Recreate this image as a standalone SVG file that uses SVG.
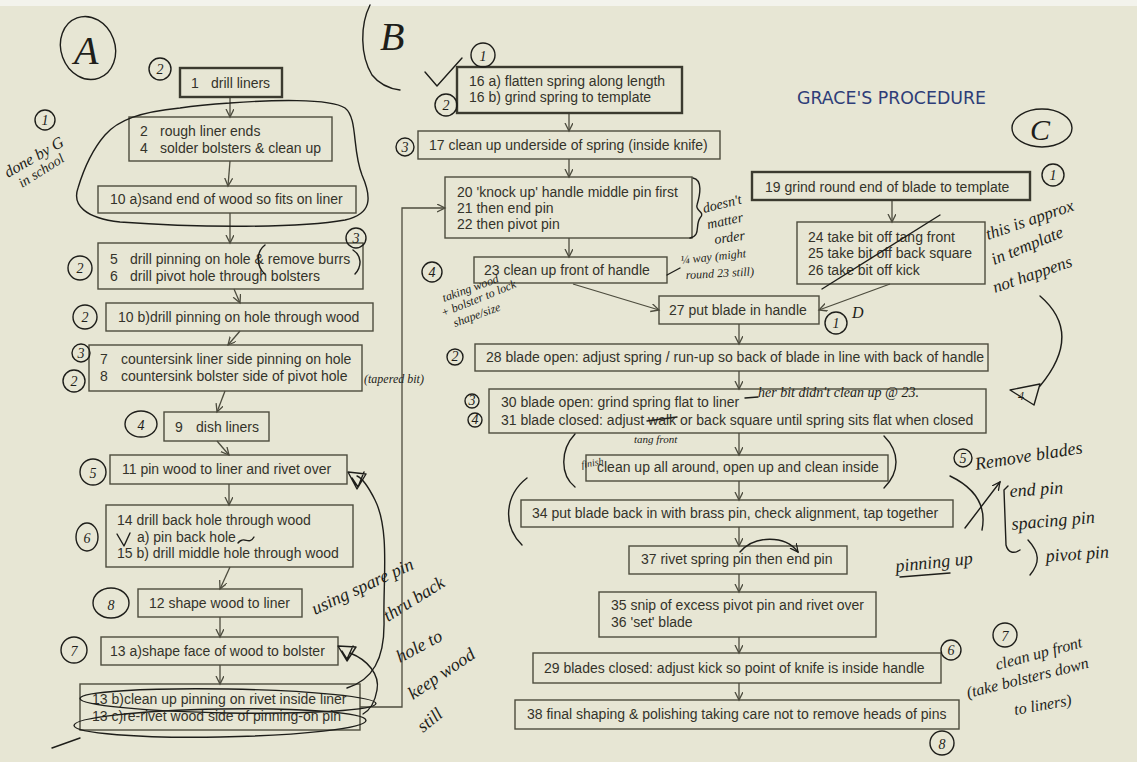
<svg xmlns="http://www.w3.org/2000/svg" width="1137" height="762" viewBox="0 0 1137 762">
<defs>
<style>
.box{fill:none;stroke:#4d4c3e;stroke-width:1.4}
.thick{stroke:#3b3a2f;stroke-width:2.4}
.t{font-family:"Liberation Sans",Arial,sans-serif;font-size:14px;fill:#34332a}
.title{font-family:"DejaVu Sans","Liberation Sans",sans-serif;font-size:17px;fill:#2e3d78}
.con{fill:none;stroke:#4d4c3e;stroke-width:1.3}
.ink{fill:none;stroke:#1e1e1a;stroke-width:1.4;stroke-linecap:round;stroke-linejoin:round}
.hw{font-family:"Liberation Serif","DejaVu Serif",serif;font-style:italic;fill:#1e1e1a}
.cn{font-family:"Liberation Serif","DejaVu Serif",serif;font-style:italic;fill:#1e1e1a;font-size:14px;text-anchor:middle}
</style>
<marker id="ah" markerWidth="10" markerHeight="10" refX="8" refY="4" orient="auto" markerUnits="userSpaceOnUse">
<path d="M0,0 L8,4 L0,8" fill="none" stroke="#4d4c3e" stroke-width="1.3"/>
</marker>
<marker id="ih" markerWidth="10" markerHeight="10" refX="8" refY="4" orient="auto" markerUnits="userSpaceOnUse">
<path d="M0,0 L8,4 L0,8" fill="none" stroke="#1e1e1a" stroke-width="1.3"/>
</marker>
</defs>
<rect x="0" y="0" width="1137" height="762" fill="#e7e6d4"/>
<rect x="0" y="0" width="1137" height="6" fill="#f3f3ec"/>

<g id="connectors">
<line class="con" x1="230" y1="97" x2="230" y2="117" marker-end="url(#ah)"/>
<line class="con" x1="230" y1="161" x2="228" y2="186" marker-end="url(#ah)"/>
<line class="con" x1="230" y1="213" x2="230" y2="243" marker-end="url(#ah)"/>
<line class="con" x1="234" y1="289" x2="240" y2="303" marker-end="url(#ah)"/>
<line class="con" x1="240" y1="331" x2="228" y2="345" marker-end="url(#ah)"/>
<line class="con" x1="225" y1="391" x2="217" y2="412" marker-end="url(#ah)"/>
<line class="con" x1="217" y1="441" x2="229" y2="455" marker-end="url(#ah)"/>
<line class="con" x1="229" y1="484" x2="229" y2="505" marker-end="url(#ah)"/>
<line class="con" x1="230" y1="567" x2="220" y2="589" marker-end="url(#ah)"/>
<line class="con" x1="220" y1="617" x2="220" y2="637" marker-end="url(#ah)"/>
<line class="con" x1="220" y1="665" x2="220" y2="684" marker-end="url(#ah)"/>
<polyline class="con" points="360,707 402,707 402,208 445,208" marker-end="url(#ah)"/>
<line class="con" x1="569" y1="113" x2="569" y2="131" marker-end="url(#ah)"/>
<line class="con" x1="569" y1="159" x2="569" y2="177" marker-end="url(#ah)"/>
<line class="con" x1="569" y1="238" x2="569" y2="257" marker-end="url(#ah)"/>
<line class="con" x1="573" y1="284" x2="659" y2="310" marker-end="url(#ah)"/>
<line class="con" x1="892" y1="200" x2="892" y2="222" marker-end="url(#ah)"/>
<line class="con" x1="890" y1="284" x2="819" y2="310" marker-end="url(#ah)"/>
<line class="con" x1="739" y1="324" x2="739" y2="344" marker-end="url(#ah)"/>
<line class="con" x1="739" y1="371" x2="739" y2="389" marker-end="url(#ah)"/>
<line class="con" x1="739" y1="433" x2="739" y2="455" marker-end="url(#ah)"/>
<line class="con" x1="739" y1="481" x2="739" y2="500" marker-end="url(#ah)"/>
<line class="con" x1="739" y1="527" x2="739" y2="546" marker-end="url(#ah)"/>
<line class="con" x1="739" y1="574" x2="739" y2="592" marker-end="url(#ah)"/>
<line class="con" x1="739" y1="637" x2="739" y2="653" marker-end="url(#ah)"/>
<line class="con" x1="739" y1="683" x2="739" y2="700" marker-end="url(#ah)"/>
</g>

<g id="n1"><rect class="box thick" x="180" y="68" width="102" height="29"/><text class="t" x="191" y="88">1</text><text class="t" x="211" y="88">drill liners</text></g>
<g id="n2"><rect class="box" x="129" y="117" width="203" height="44"/><text class="t" x="140" y="136">2</text><text class="t" x="160" y="136">rough liner ends</text><text class="t" x="140" y="153">4</text><text class="t" x="160" y="153">solder bolsters &amp; clean up</text></g>
<g id="n10a"><rect class="box" x="98" y="186" width="258" height="27"/><text class="t" x="110" y="204">10 a)sand end of wood so fits on liner</text></g>
<g id="n5"><rect class="box" x="98" y="243" width="265" height="46"/><text class="t" x="110" y="264">5</text><text class="t" x="130" y="264">drill pinning on hole &amp; remove burrs</text><text class="t" x="110" y="281">6</text><text class="t" x="130" y="281">drill pivot hole through bolsters</text></g>
<g id="n10b"><rect class="box" x="106" y="303" width="267" height="28"/><text class="t" x="118" y="322">10 b)drill pinning on hole through wood</text></g>
<g id="n7"><rect class="box" x="89" y="345" width="273" height="46"/><text class="t" x="100" y="364">7</text><text class="t" x="121" y="364">countersink liner side pinning on hole</text><text class="t" x="100" y="381">8</text><text class="t" x="121" y="381">countersink bolster side of pivot hole</text></g>
<g id="n9"><rect class="box" x="164" y="412" width="105" height="29"/><text class="t" x="175" y="432">9</text><text class="t" x="196" y="432">dish liners</text></g>
<g id="n11"><rect class="box" x="110" y="455" width="237" height="29"/><text class="t" x="122" y="474">11 pin wood to liner and rivet over</text></g>
<g id="n14"><rect class="box" x="106" y="505" width="247" height="62"/><text class="t" x="117" y="525">14 drill back hole through wood</text><text class="t" x="137" y="542">a) pin back hole</text><text class="t" x="117" y="558">15 b) drill middle hole through wood</text></g>
<g id="n12"><rect class="box" x="138" y="589" width="164" height="28"/><text class="t" x="149" y="608">12 shape wood to liner</text></g>
<g id="n13a"><rect class="box" x="101" y="637" width="237" height="28"/><text class="t" x="110" y="656">13 a)shape face of wood to bolster</text></g>
<g id="n13bc"><rect class="box" x="80" y="684" width="280" height="46"/><text class="t" x="92" y="704">13 b)clean up pinning on rivet inside liner</text><text class="t" x="92" y="721">13 c)re-rivet wood side of pinning-on pin</text></g>

<g id="n16"><rect class="box thick" x="457" y="67" width="225" height="46"/><text class="t" x="469" y="86">16 a) flatten spring along length</text><text class="t" x="469" y="102">16 b) grind spring to template</text></g>
<g id="n17"><rect class="box" x="418" y="131" width="302" height="28"/><text class="t" x="429" y="150">17 clean up underside of spring (inside knife)</text></g>
<g id="n20"><rect class="box" x="445" y="177" width="247" height="61"/><text class="t" x="457" y="197">20 'knock up' handle middle pin first</text><text class="t" x="457" y="213">21 then end pin</text><text class="t" x="457" y="229">22 then pivot pin</text></g>
<g id="n23"><rect class="box" x="474" y="257" width="193" height="26"/><text class="t" x="484" y="275">23 clean up front of handle</text></g>
<g id="n19"><rect class="box thick" x="752" y="172" width="278" height="28"/><text class="t" x="765" y="192">19 grind round end of blade to template</text></g>
<g id="n24"><rect class="box" x="797" y="222" width="188" height="62"/><text class="t" x="808" y="242">24 take bit off tang front</text><text class="t" x="808" y="258">25 take bit off back square</text><text class="t" x="808" y="275">26 take bit off kick</text></g>
<g id="n27"><rect class="box" x="659" y="296" width="160" height="28"/><text class="t" x="669" y="315">27 put blade in handle</text></g>
<g id="n28"><rect class="box" x="475" y="344" width="513" height="27"/><text class="t" x="486" y="362">28 blade open: adjust spring / run-up so back of blade in line with back of handle</text></g>
<g id="n30"><rect class="box" x="489" y="389" width="497" height="44"/><text class="t" x="501" y="407">30 blade open: grind spring flat to liner</text><text class="t" x="501" y="425">31 blade closed: adjust walk or back square until spring sits flat when closed</text></g>
<g id="nclean"><rect class="box" x="586" y="455" width="302" height="26"/><text class="t" x="597" y="472">clean up all around, open up and clean inside</text></g>
<g id="n34"><rect class="box" x="521" y="500" width="432" height="27"/><text class="t" x="532" y="518">34 put blade back in with brass pin, check alignment, tap together</text></g>
<g id="n37"><rect class="box" x="629" y="546" width="218" height="28"/><text class="t" x="641" y="564">37 rivet spring pin then end pin</text></g>
<g id="n35"><rect class="box" x="599" y="592" width="277" height="45"/><text class="t" x="611" y="610">35 snip of excess pivot pin and rivet over</text><text class="t" x="611" y="627">36 'set' blade</text></g>
<g id="n29"><rect class="box" x="533" y="653" width="408" height="30"/><text class="t" x="544" y="673">29 blades closed: adjust kick so point of knife is inside handle</text></g>
<g id="n38"><rect class="box" x="515" y="700" width="444" height="29"/><text class="t" x="527" y="719">38 final shaping &amp; polishing taking care not to remove heads of pins</text></g>

<g id="title"><text class="title" x="797" y="104" textLength="189" lengthAdjust="spacingAndGlyphs">GRACE'S PROCEDURE</text></g>

<g id="annotations">
<ellipse class="ink" cx="88" cy="48" rx="27" ry="32" transform="rotate(-20 88 48)"/>
<text class="hw" x="74" y="64" font-size="40">A</text>
<path class="ink" d="M370 5 C360 25 360 55 372 75 C380 85 392 89 400 90"/>
<text class="hw" x="380" y="50" font-size="40">B</text>
<ellipse class="ink" cx="1042" cy="128" rx="30" ry="19"/>
<text class="hw" x="1030" y="140" font-size="30">C</text>

<circle class="ink" cx="160" cy="69" r="11"/><text class="cn" x="160" y="74">2</text>
<circle class="ink" cx="45" cy="120" r="10"/><text class="cn" x="45" y="125">1</text>
<circle class="ink" cx="356" cy="238" r="10"/><text class="cn" x="356" y="243">3</text>
<circle class="ink" cx="80" cy="268" r="12"/><text class="cn" x="80" y="273">2</text>
<circle class="ink" cx="85" cy="317" r="12"/><text class="cn" x="85" y="322">2</text>
<circle class="ink" cx="81" cy="353" r="9"/><text class="cn" x="81" y="358">3</text>
<circle class="ink" cx="74" cy="381" r="11"/><text class="cn" x="74" y="386">2</text>
<ellipse class="ink" cx="141" cy="424" rx="16" ry="13"/><text class="cn" x="141" y="430" font-size="18">4</text>
<circle class="ink" cx="93" cy="472" r="13"/><text class="cn" x="93" y="478" font-size="17">5</text>
<ellipse class="ink" cx="87" cy="537" rx="11" ry="14"/><text class="cn" x="87" y="543" font-size="17">6</text>
<ellipse class="ink" cx="111" cy="603" rx="18" ry="15"/><text class="cn" x="111" y="610" font-size="20">8</text>
<circle class="ink" cx="74" cy="650" r="13"/><text class="cn" x="74" y="656" font-size="17">7</text>
<circle class="ink" cx="483" cy="55" r="12"/><text class="cn" x="483" y="61" font-size="16">1</text>
<circle class="ink" cx="446" cy="105" r="11"/><text class="cn" x="446" y="110">2</text>
<circle class="ink" cx="405" cy="147" r="9"/><text class="cn" x="405" y="152">3</text>
<circle class="ink" cx="432" cy="272" r="10"/><text class="cn" x="432" y="277">4</text>
<circle class="ink" cx="836" cy="323" r="11"/><text class="cn" x="836" y="328">1</text>
<circle class="ink" cx="1053" cy="175" r="11"/><text class="cn" x="1053" y="180">1</text>
<circle class="ink" cx="455" cy="357" r="8"/><text class="cn" x="455" y="361" font-size="11">2</text>
<circle class="ink" cx="472" cy="401" r="7"/><text class="cn" x="472" y="405" font-size="11">3</text>
<circle class="ink" cx="475" cy="420" r="7"/><text class="cn" x="475" y="424" font-size="11">4</text>
<circle class="ink" cx="963" cy="458" r="9"/><text class="cn" x="963" y="463">5</text>
<circle class="ink" cx="951" cy="650" r="10"/><text class="cn" x="951" y="655" font-size="12">6</text>
<circle class="ink" cx="942" cy="743" r="12"/><text class="cn" x="942" y="749" font-size="17">8</text>
<circle class="ink" cx="1005" cy="635" r="12"/><text class="cn" x="1005" y="641" font-size="16">7</text>

<path class="ink" d="M230 103 C270 100 330 98 345 108 C358 118 352 150 362 175 C372 198 372 214 345 220 C300 228 200 228 120 222 C85 218 72 205 78 188 C84 168 92 150 105 135 C118 120 140 112 180 108 C200 105 215 104 230 103"/>
<path class="ink" d="M265 245 C256 252 256 266 265 274"/>
<path class="ink" d="M353 250 C362 256 362 266 355 274"/>
<path class="ink" d="M425 72 L437 86 L462 58"/>
<path class="ink" d="M117 534 L124 546 L130 533"/>
<path class="ink" d="M238 543 C244 535 249 546 254 537"/>
<path class="ink" d="M348 472 L366 474 L357 489 Z M352 478 L358 487 L364 472"/>
<path class="ink" d="M338 646 L356 647 L347 661 Z M342 651 L347 659 L353 646"/>
<ellipse class="ink" cx="228" cy="701" rx="148" ry="12" transform="rotate(1 228 701)"/>
<ellipse class="ink" cx="220" cy="723" rx="146" ry="14" transform="rotate(-1 220 723)"/>
<path class="ink" d="M52 748 L80 738"/>
<path class="ink" d="M347 688 C372 680 385 660 384 620 C383 580 390 530 375 500 C368 486 362 478 357 476"/>
<path class="ink" d="M350 653 C368 660 380 675 377 690 C375 702 370 710 363 714"/>
<path class="ink" d="M693 178 C703 180 700 195 697 205 C695 211 706 212 700 218 C695 225 701 236 690 238"/>
<path class="ink" d="M667 275 L680 268"/>
<path class="ink" d="M822 289 L940 215"/>
<path class="ink" d="M1040 296 C1068 320 1070 350 1040 386"/>
<path class="ink" d="M1010 390 L1040 384 L1034 405 Z"/>
<text class="hw" x="1018" y="400" font-size="12">4</text>
<path class="ink" d="M647 421 L677 417"/>
<path class="ink" d="M745 398 L758 397"/>
<path class="ink" d="M575 434 C560 450 560 475 575 487"/>
<path class="ink" d="M884 436 C900 452 900 472 884 488"/>
<path class="ink" d="M527 478 C505 495 502 525 522 545"/>
<path class="ink" d="M950 476 C975 488 987 505 982 530"/>
<path class="ink" d="M965 528 L1000 482" marker-end="url(#ih)"/>
<path class="ink" d="M1008 486 L1004 490 L1006 545 C1008 553 1014 554 1020 550"/>
<path class="ink" d="M1028 540 C1040 553 1040 563 1030 575"/>
<path class="ink" d="M900 577 L950 573"/>
<path class="ink" d="M740 552 C755 535 785 535 798 552" marker-end="url(#ih)"/>

<text class="hw" font-size="16" transform="translate(8 178) rotate(-30)">done by G</text>
<text class="hw" font-size="14" transform="translate(22 188) rotate(-32)">in school</text>
<text class="hw" font-size="12" x="364" y="383">(tapered bit)</text>
<text class="hw" font-size="18" transform="translate(315 615) rotate(-25)">using spare pin</text>
<text class="hw" font-size="18" transform="translate(388 622) rotate(-32)">thru back</text>
<text class="hw" font-size="18" transform="translate(400 663) rotate(-28)">hole to</text>
<text class="hw" font-size="18" transform="translate(413 700) rotate(-34)">keep wood</text>
<text class="hw" font-size="18" transform="translate(423 733) rotate(-39)">still</text>
<text class="hw" font-size="14" transform="translate(704 213) rotate(-14)">doesn't</text>
<text class="hw" font-size="14" transform="translate(708 229) rotate(-12)">matter</text>
<text class="hw" font-size="14" transform="translate(715 244) rotate(-8)">order</text>
<text class="hw" font-size="12" transform="translate(681 264) rotate(-6)">¼ way (might</text>
<text class="hw" font-size="12" transform="translate(686 279) rotate(-3)">round 23 still)</text>
<text class="hw" font-size="12" transform="translate(444 302) rotate(-20)">taking wood</text>
<text class="hw" font-size="12" transform="translate(443 317) rotate(-22)">+ bolster to lock</text>
<text class="hw" font-size="12" transform="translate(455 327) rotate(-20)">shape/size</text>
<text class="hw" font-size="16" x="852" y="318">D</text>
<text class="hw" font-size="17" transform="translate(988 240) rotate(-19)">this is approx</text>
<text class="hw" font-size="17" transform="translate(994 265) rotate(-22)">in template</text>
<text class="hw" font-size="17" transform="translate(995 293) rotate(-19)">not happens</text>
<text class="hw" font-size="14" x="758" y="397">her bit didn't clean up @ 23.</text>
<text class="hw" font-size="11" x="634" y="443">tang front</text>
<text class="hw" font-size="10" transform="translate(582 468) rotate(-10)">finish</text>
<text class="hw" font-size="18" transform="translate(976 470) rotate(-9)">Remove blades</text>
<text class="hw" font-size="18" transform="translate(1010 497) rotate(-4)">end pin</text>
<text class="hw" font-size="18" transform="translate(1012 530) rotate(-5)">spacing pin</text>
<text class="hw" font-size="18" transform="translate(896 572) rotate(-6)">pinning up</text>
<text class="hw" font-size="18" transform="translate(1046 562) rotate(-4)">pivot pin</text>
<text class="hw" font-size="16" transform="translate(997 670) rotate(-15)">clean up front</text>
<text class="hw" font-size="16" transform="translate(968 698) rotate(-14)">(take bolsters down</text>
<text class="hw" font-size="16" transform="translate(1015 715) rotate(-10)">to liners)</text>
</g>
</svg>
